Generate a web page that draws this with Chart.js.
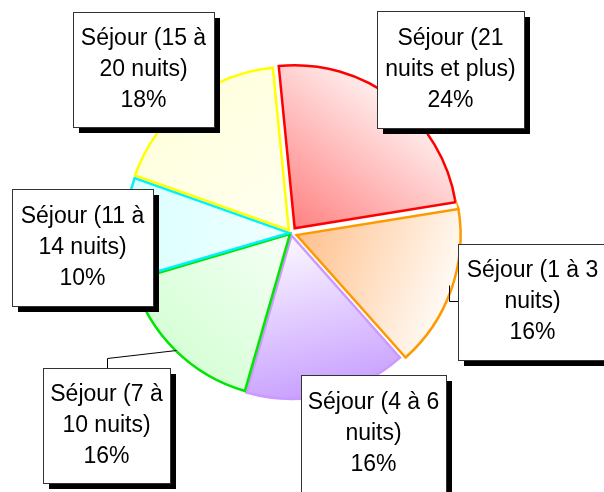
<!DOCTYPE html>
<html>
<head>
<meta charset="utf-8">
<script src="https://cdn.jsdelivr.net/npm/chart.js@4/dist/chart.umd.min.js"></script>
<style>
  html, body { margin: 0; padding: 0; background: #fff; }
  #wrap { width: 604px; height: 492px; position: relative; overflow: hidden; }
</style>
</head>
<body>
<div id="wrap"><canvas id="pie" width="604" height="492"></canvas></div>
<script>
// slices, clockwise from the top
const categories = [
  'Séjour (21 nuits et plus)',
  'Séjour (1 à 3 nuits)',
  'Séjour (4 à 6 nuits)',
  'Séjour (7 à 10 nuits)',
  'Séjour (11 à 14 nuits)',
  'Séjour (15 à 20 nuits)',
];
const shares = [24, 16, 16, 16, 10, 18];
const labelText = [
  ['Séjour (21', 'nuits et plus)'],
  ['Séjour (1 à 3', 'nuits)'],
  ['Séjour (4 à 6', 'nuits)'],
  ['Séjour (7 à', '10 nuits)'],
  ['Séjour (11 à', '14 nuits)'],
  ['Séjour (15 à', '20 nuits)'],
];

const ROTATION = -5.6;
const RADIUS = 163;
const borderColors = ['#ff0000', '#ff9900', '#cc99ff', '#00e600', '#00f0ff', '#ffff00'];
// [near centre, at rim]
const fillStops = [
  ['rgb(255,130,130)', 'rgb(255,238,238)'],
  ['rgb(255,192,140)', 'rgb(255,250,244)'],
  ['rgb(252,248,255)', 'rgb(200,160,255)'],
  ['rgb(246,255,246)', 'rgb(214,255,214)'],
  ['rgb(240,255,255)', 'rgb(218,255,255)'],
  ['rgb(255,255,240)', 'rgb(255,255,222)'],
];
// label boxes: left, top, width, height
const boxes = [
  { x: 377, y: 11, w: 147, h: 117 },
  { x: 458, y: 244, w: 149, h: 116 },
  { x: 301, y: 375, w: 145, h: 118 },
  { x: 43, y: 368, w: 127, h: 115 },
  { x: 12, y: 189, w: 141, h: 117 },
  { x: 73, y: 12, w: 141, h: 115 },
];
const leaders = [
  null,
  [[458, 301], [449, 301], [449, 285]],
  null,
  [[107, 368], [107, 358], [176, 350]],
  null,
  null,
];

function sliceFill(context) {
  const chart = context.chart;
  const area = chart.chartArea;
  const i = context.dataIndex;
  if (!area || i === undefined) return fillStops[i || 0][1];
  const cx = (area.left + area.right) / 2;
  const cy = (area.top + area.bottom) / 2;
  const total = shares.reduce((a, b) => a + b, 0);
  let start = ROTATION;
  for (let k = 0; k < i; k++) start += (shares[k] / total) * 360;
  const mid = ((start + (shares[i] / total) * 180 - 90) * Math.PI) / 180;
  const g = chart.ctx.createLinearGradient(
    cx, cy,
    cx + RADIUS * Math.cos(mid), cy + RADIUS * Math.sin(mid)
  );
  g.addColorStop(0, fillStops[i][0]);
  g.addColorStop(1, fillStops[i][1]);
  return g;
}

const labelBoxes = {
  id: 'labelBoxes',
  afterDatasetsDraw(chart) {
    const ctx = chart.ctx;
    ctx.save();
    ctx.strokeStyle = '#000';
    ctx.lineWidth = 1;
    leaders.forEach((pts) => {
      if (!pts) return;
      ctx.beginPath();
      ctx.moveTo(pts[0][0] + 0.5, pts[0][1] + 0.5);
      pts.slice(1).forEach((p) => ctx.lineTo(p[0] + 0.5, p[1] + 0.5));
      ctx.stroke();
    });
    boxes.forEach((b, i) => {
      ctx.fillStyle = '#000';
      ctx.fillRect(b.x + 6, b.y + 6, b.w, b.h);
      ctx.fillStyle = '#fff';
      ctx.fillRect(b.x, b.y, b.w, b.h);
      ctx.strokeStyle = '#333';
      ctx.strokeRect(b.x + 0.5, b.y + 0.5, b.w, b.h);
      const lines = labelText[i].concat([shares[i] + '%']);
      ctx.fillStyle = '#000';
      ctx.font = '23px "Liberation Sans", Arial, sans-serif';
      ctx.textAlign = 'center';
      ctx.textBaseline = 'middle';
      const cx = b.x + b.w / 2;
      const cy = b.y + b.h / 2;
      lines.forEach((t, j) => ctx.fillText(t, cx, cy + (j - 1) * 31));
    });
    ctx.restore();
  },
};

new Chart(document.getElementById('pie'), {
  type: 'pie',
  data: {
    labels: categories,
    datasets: [
      {
        data: shares,
        backgroundColor: sliceFill,
        borderColor: borderColors,
        borderWidth: 2.5,
        borderJoinStyle: 'miter',
        offset: [24, 24, 10, 6, 8, 14],
      },
    ],
  },
  options: {
    responsive: false,
    animation: false,
    rotation: ROTATION,
    radius: RADIUS,
    layout: { padding: { left: 0, right: 22, top: 0, bottom: 26 } },
    plugins: {
      legend: { display: false },
      tooltip: { enabled: false },
    },
  },
  plugins: [labelBoxes],
});
</script>
</body>
</html>
